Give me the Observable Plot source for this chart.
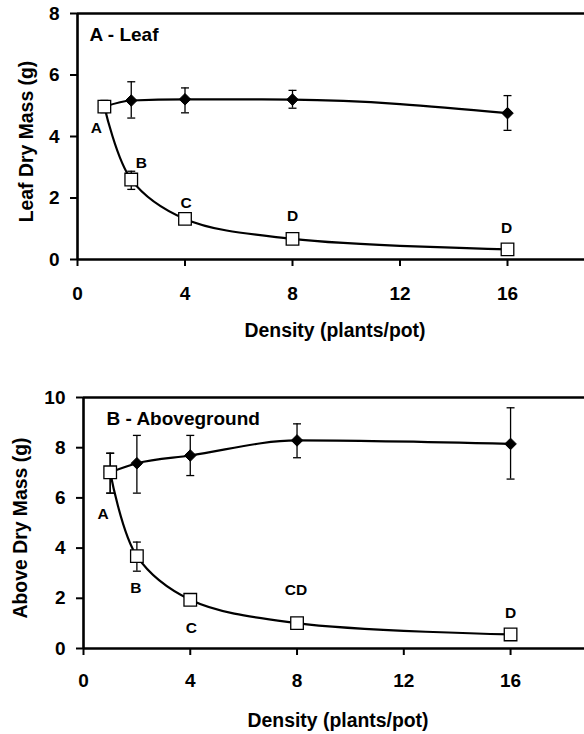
<!DOCTYPE html>
<html>
<head>
<meta charset="utf-8">
<script src="https://cdn.jsdelivr.net/npm/d3@7"></script>
<script src="https://cdn.jsdelivr.net/npm/@observablehq/plot@0.6"></script>
<style>
  html, body { margin: 0; padding: 0; background: #fff; }
  #chart svg { display: block; }
</style>
</head>
<body>
<div id="chart"></div>
<script>
// ---------- data ----------
const density = [1, 2, 4, 8, 16];
const xTicks = [0, 4, 8, 12, 16];

// Panel A - Leaf
const leafPot     = [4.97, 5.17, 5.21, 5.20, 4.76];
const leafPotLo   = [4.78, 4.60, 4.77, 4.92, 4.20];
const leafPotHi   = [5.17, 5.78, 5.58, 5.50, 5.33];
const leafPlant   = [4.97, 2.60, 1.32, 0.67, 0.33];
const leafPlantLo = [4.78, 2.28, 1.26, 0.63, 0.30];
const leafPlantHi = [5.17, 2.87, 1.38, 0.71, 0.36];
const leafLetters = ["A", "B", "C", "D", "D"];
const leafTicks   = [0, 2, 4, 6, 8];

// Panel B - Aboveground
const abovePot     = [7.02, 7.38, 7.69, 8.29, 8.15];
const abovePotLo   = [6.19, 6.19, 6.89, 7.60, 6.75];
const abovePotHi   = [7.78, 8.49, 8.49, 8.95, 9.59];
const abovePlant   = [7.02, 3.68, 1.94, 1.01, 0.56];
const abovePlantLo = [6.19, 3.08, 1.86, 0.95, 0.52];
const abovePlantHi = [7.78, 4.24, 2.02, 1.07, 0.60];
const aboveLetters = ["A", "B", "C", "CD", "D"];
const aboveTicks   = [0, 2, 4, 6, 8, 10];

// ---------- drawing ----------
const FONT = "'Liberation Sans', Arial, Helvetica, sans-serif";
const capSymbol = {
  draw(ctx, size) {
    const w = Math.sqrt(size);
    ctx.moveTo(-w / 2, 0);
    ctx.lineTo(w / 2, 0);
  }
};

function panel(cfg) {
  const rows = density.map((d, i) => ({
    x: d,
    pot: cfg.pot[i], potLo: cfg.potLo[i], potHi: cfg.potHi[i],
    plant: cfg.plant[i], plantLo: cfg.plantLo[i], plantHi: cfg.plantHi[i]
  }));
  const yMax = cfg.yTicks[cfg.yTicks.length - 1];
  const letterMarks = cfg.letters.map((t, i) =>
    Plot.text([rows[i]], {
      x: "x", y: "plant", text: () => t,
      dx: cfg.letterOffsets[i][0], dy: cfg.letterOffsets[i][1],
      fontSize: 15.5, fontWeight: "bold", fill: "black"
    })
  );
  return Plot.plot({
    width: 584,
    height: cfg.height,
    marginTop: cfg.marginTop,
    marginBottom: cfg.marginBottom,
    marginLeft: cfg.marginLeft,
    marginRight: 0,
    style: { fontFamily: FONT, fontSize: "19px", fontWeight: "bold", color: "black", background: "white", overflow: "visible" },
    x: { domain: [0, cfg.xMax] },
    y: { domain: [0, yMax] },
    marks: [
      // frame: top line, y axis line, x axis line
      Plot.ruleY([yMax], { stroke: "black", strokeWidth: 2.5 }),
      Plot.ruleX([0], { stroke: "black", strokeWidth: 2.6 }),
      Plot.ruleY([0], { stroke: "black", strokeWidth: 2.6 }),
      Plot.axisX({ ticks: xTicks, tickSize: 7, tickPadding: cfg.xTickPad, tickFormat: d => String(d), label: null, strokeWidth: 2, fontSize: 19, fontWeight: "bold" }),
      Plot.axisY({ ticks: cfg.yTicks, tickSize: 7, tickPadding: 11, tickFormat: d => String(d), label: null, strokeWidth: 2, fontSize: 19, fontWeight: "bold" }),
      // error bars
      Plot.ruleX(rows, { x: "x", y1: "potLo", y2: "potHi", stroke: "black", strokeWidth: 1.3 }),
      Plot.dot(rows, { x: "x", y: "potLo", symbol: capSymbol, r: 4.5, fill: "none", stroke: "black", strokeWidth: 1.3 }),
      Plot.dot(rows, { x: "x", y: "potHi", symbol: capSymbol, r: 4.5, fill: "none", stroke: "black", strokeWidth: 1.3 }),
      Plot.ruleX(rows, { x: "x", y1: "plantLo", y2: "plantHi", stroke: "black", strokeWidth: 1.3 }),
      Plot.dot(rows, { x: "x", y: "plantLo", symbol: capSymbol, r: 4.5, fill: "none", stroke: "black", strokeWidth: 1.3 }),
      Plot.dot(rows, { x: "x", y: "plantHi", symbol: capSymbol, r: 4.5, fill: "none", stroke: "black", strokeWidth: 1.3 }),
      // smoothed lines
      Plot.line(rows, { x: "x", y: "pot", curve: "monotone-x", stroke: "black", strokeWidth: 2.2 }),
      Plot.line(rows, { x: "x", y: "plant", curve: "catmull-rom", stroke: "black", strokeWidth: 2.2 }),
      // markers
      Plot.dot(rows, { x: "x", y: "pot", symbol: "diamond2", r: 5.2, fill: "black", stroke: "black", strokeWidth: 1 }),
      Plot.dot(rows, { x: "x", y: "plant", symbol: "square", r: 7.1, fill: "white", stroke: "black", strokeWidth: 1.3 }),
      // letters
      ...letterMarks,
      // panel title
      Plot.text([cfg.title], { frameAnchor: "top-left", dx: cfg.titleDx, dy: 21, text: d => d, textAnchor: "start", lineAnchor: "middle", fontSize: 19, fontWeight: "bold", fill: "black" }),
      // axis labels
      Plot.text([cfg.xLabel], { frameAnchor: "bottom", dx: 4, dy: cfg.xLabelDy, text: d => d, textAnchor: "middle", lineAnchor: "middle", fontSize: 19.4, fontWeight: "bold", fill: "black" }),
      Plot.text([cfg.yLabel], { frameAnchor: "left", dx: cfg.yLabelDx, dy: 5, rotate: -90, text: d => d, textAnchor: "middle", lineAnchor: "middle", fontSize: 19.4, fontWeight: "bold", fill: "black" })
    ]
  });
}

const chart = document.getElementById("chart");
chart.append(panel({
  height: 345, marginTop: 13, marginBottom: 86, marginLeft: 77, xMax: 18.865,
  pot: leafPot, potLo: leafPotLo, potHi: leafPotHi,
  plant: leafPlant, plantLo: leafPlantLo, plantHi: leafPlantHi,
  letters: leafLetters,
  letterOffsets: [[-8, 21], [10, -17], [1, -16], [0, -23], [-1, -21]],
  yTicks: leafTicks, xTickPad: 20,
  title: "A - Leaf", titleDx: 12,
  xLabel: "Density (plants/pot)", xLabelDy: 71,
  yLabel: "Leaf Dry Mass (g)", yLabelDx: -51
}));
chart.append(panel({
  height: 389, marginTop: 52, marginBottom: 86, marginLeft: 83, xMax: 18.77,
  pot: abovePot, potLo: abovePotLo, potHi: abovePotHi,
  plant: abovePlant, plantLo: abovePlantLo, plantHi: abovePlantHi,
  letters: aboveLetters,
  letterOffsets: [[-7, 42], [-1, 32], [1, 28], [-1, -33], [0, -21]],
  yTicks: aboveTicks, xTickPad: 18,
  title: "B - Aboveground", titleDx: 23,
  xLabel: "Density (plants/pot)", xLabelDy: 72,
  yLabel: "Above Dry Mass (g)", yLabelDx: -63
}));
</script>
</body>
</html>
